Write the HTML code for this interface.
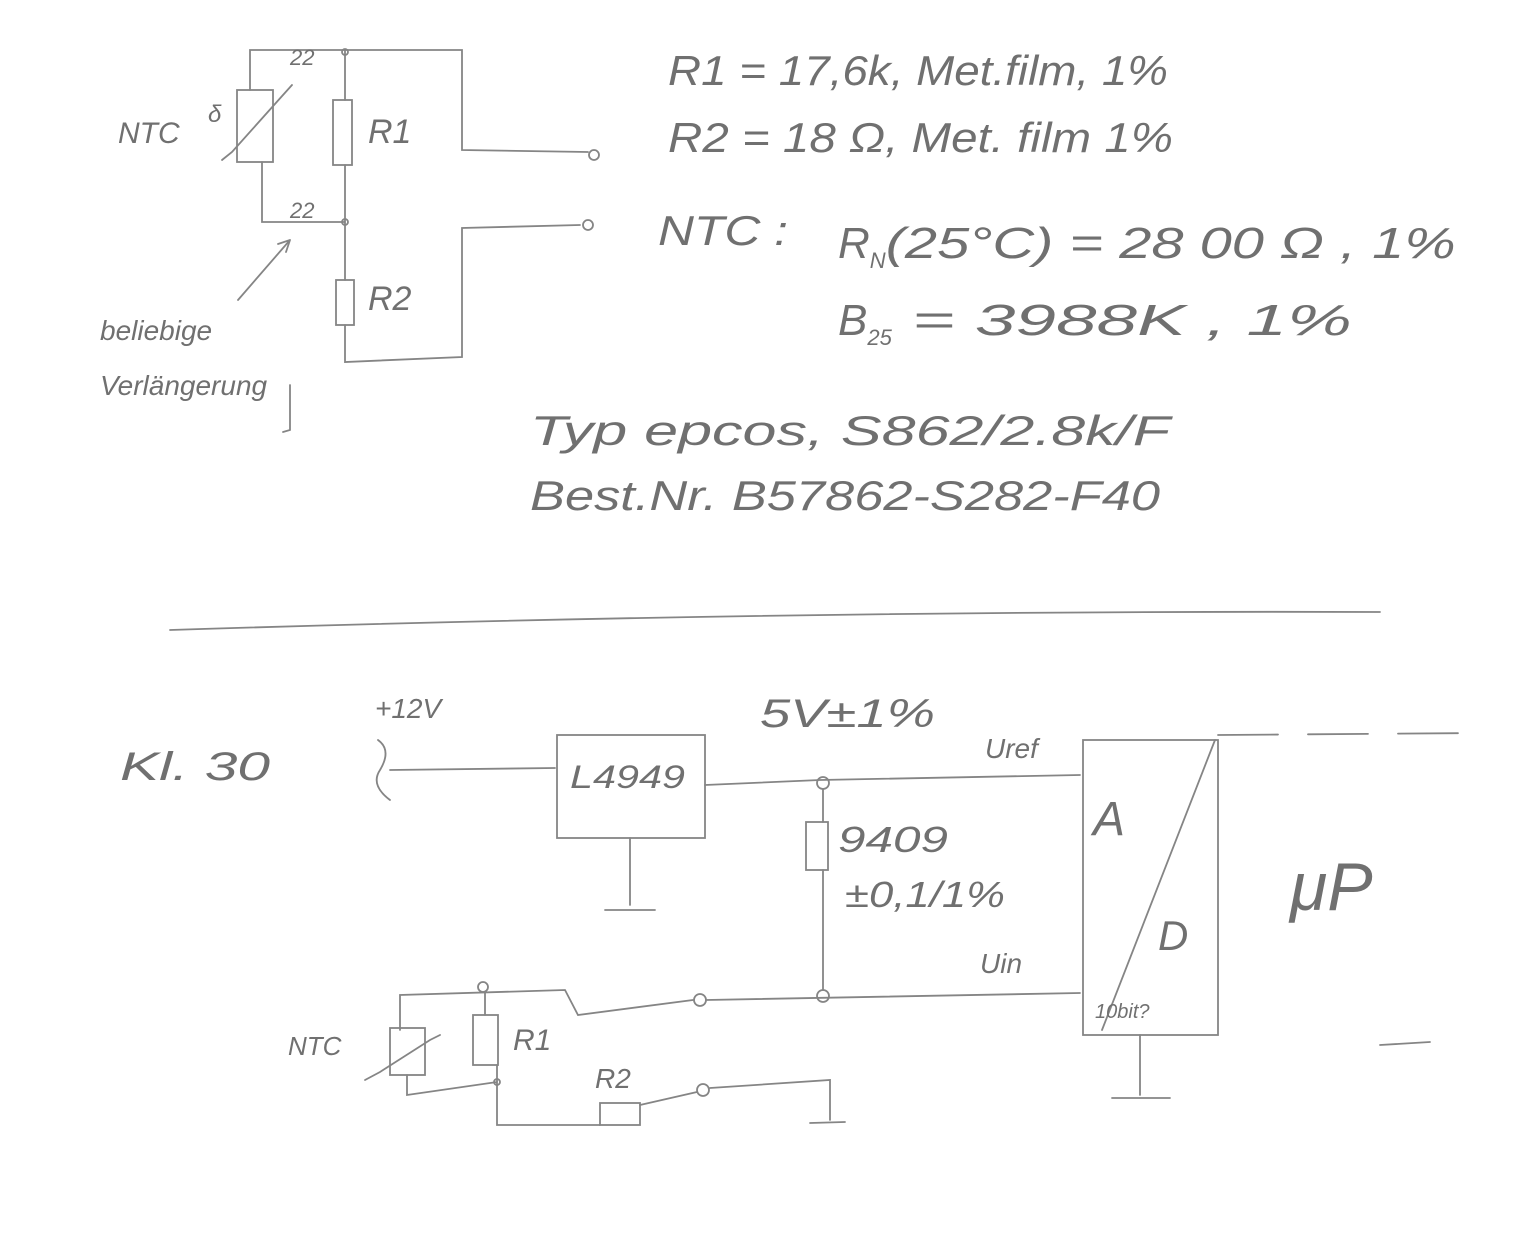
<!DOCTYPE html>
<html><head><meta charset="utf-8"><style>
html,body{margin:0;padding:0;background:#fff}
svg{display:block}
text{font-family:"Liberation Sans",sans-serif;fill:#707070;font-style:italic}
</style></head><body>
<svg width="1540" height="1239" viewBox="0 0 1540 1239" xmlns="http://www.w3.org/2000/svg">
<rect width="1540" height="1239" fill="#fff"/>
<g stroke="#858585" stroke-width="1.8" fill="none" stroke-linecap="round">
<path d="M250 90 L250 50 L345 50 L462 50 L462 150 L588 152"/>
<circle cx="594" cy="155" r="5"/>
<rect x="237" y="90" width="36" height="72"/>
<path d="M222 160 L232 152 L283 95 L292 85"/>
<rect x="333" y="100" width="19" height="65"/>
<path d="M345 50 L345 100 M345 165 L345 280 M262 162 L262 222 L345 222"/>
<circle cx="345" cy="222" r="3"/>
<circle cx="345" cy="52" r="3"/>
<rect x="336" y="280" width="18" height="45"/>
<path d="M345 325 L345 362 L462 357 L462 228 L580 225"/>
<circle cx="588" cy="225" r="5"/>
<path d="M238 300 L290 240 M290 240 L278 244 M290 240 L286 252"/>
<path d="M290 385 L290 430 L283 432"/>
<path d="M170 630 Q800 610 1380 612"/>
<path d="M378 740 Q392 750 380 770 Q370 785 390 800"/>
<path d="M390 770 L555 768"/>
<rect x="557" y="735" width="148" height="103"/>
<path d="M630 838 L630 905 M605 910 L655 910"/>
<path d="M705 785 L820 780 L1080 775"/>
<circle cx="823" cy="783" r="6"/>
<rect x="806" y="822" width="22" height="48"/>
<path d="M823 789 L823 822 M823 870 L823 990"/>
<circle cx="823" cy="996" r="6"/>
<path d="M706 1000 L1080 993"/>
<rect x="1083" y="740" width="135" height="295"/>
<path d="M1215 740 L1102 1030"/>
<path d="M1140 1035 L1140 1095 M1112 1098 L1170 1098"/>
<path d="M1218 735 L1480 733" stroke-dasharray="60 30"/>
<path d="M1380 1045 L1430 1042"/>
<path d="M400 1030 L400 995 L565 990 L578 1015 L693 1000"/>
<circle cx="700" cy="1000" r="6"/>
<circle cx="483" cy="987" r="5"/>
<path d="M485 992 L485 1015"/>
<rect x="473" y="1015" width="25" height="50"/>
<rect x="390" y="1028" width="35" height="47"/>
<path d="M365 1080 L380 1072 L430 1040 L440 1035"/>
<path d="M497 1065 L497 1082 M407 1075 L407 1095 L497 1082 L497 1125 L600 1125"/>
<circle cx="497" cy="1082" r="3"/>
<rect x="600" y="1103" width="40" height="22"/>
<path d="M640 1105 L697 1092"/>
<circle cx="703" cy="1090" r="6"/>
<path d="M710 1088 L830 1080 L830 1120 M810 1123 L845 1122"/>
</g>
<text x="118" y="143" font-size="30">NTC</text>
<text x="208" y="122" font-size="24">δ</text>
<text x="290" y="65" font-size="22">22</text>
<text x="290" y="218" font-size="22">22</text>
<text x="368" y="143" font-size="34">R1</text>
<text x="368" y="310" font-size="34">R2</text>
<text x="100" y="340" font-size="28">beliebige</text>
<text x="100" y="395" font-size="28">Verlängerung</text>
<text x="668" y="85" font-size="42" textLength="500" lengthAdjust="spacingAndGlyphs">R1 = 17,6k, Met.film, 1%</text>
<text x="668" y="152" font-size="42" textLength="505" lengthAdjust="spacingAndGlyphs">R2 = 18 Ω, Met. film 1%</text>
<text x="658" y="245" font-size="42" textLength="130" lengthAdjust="spacingAndGlyphs">NTC :</text>
<text x="838" y="258" font-size="44">R<tspan font-size="22" dy="10">N</tspan><tspan dy="-10" textLength="570" lengthAdjust="spacingAndGlyphs">(25°C) = 28 00 Ω  , 1%</tspan></text>
<text x="838" y="335" font-size="44">B<tspan font-size="22" dy="10">25</tspan><tspan dy="-10" textLength="460" lengthAdjust="spacingAndGlyphs">     = 3988K , 1%</tspan></text>
<text x="530" y="445" font-size="42" textLength="640" lengthAdjust="spacingAndGlyphs">Typ epcos, S862/2.8k/F</text>
<text x="530" y="510" font-size="42" textLength="630" lengthAdjust="spacingAndGlyphs">Best.Nr. B57862-S282-F40</text>
<text x="375" y="718" font-size="28">+12V</text>
<text x="120" y="780" font-size="40" textLength="150" lengthAdjust="spacingAndGlyphs">Kl. 30</text>
<text x="570" y="788" font-size="32" textLength="115" lengthAdjust="spacingAndGlyphs">L4949</text>
<text x="760" y="727" font-size="40" textLength="175" lengthAdjust="spacingAndGlyphs">5V±1%</text>
<text x="985" y="758" font-size="28">Uref</text>
<text x="838" y="852" font-size="36" textLength="110" lengthAdjust="spacingAndGlyphs">9409</text>
<text x="845" y="907" font-size="36" textLength="160" lengthAdjust="spacingAndGlyphs">±0,1/1%</text>
<text x="980" y="973" font-size="28">Uin</text>
<text x="1093" y="835" font-size="48">A</text>
<text x="1158" y="950" font-size="42">D</text>
<text x="1095" y="1018" font-size="20">10bit?</text>
<text x="1290" y="910" font-size="68">μP</text>
<text x="288" y="1055" font-size="26">NTC</text>
<text x="513" y="1050" font-size="30">R1</text>
<text x="595" y="1088" font-size="28">R2</text>
</svg>
</body></html>
